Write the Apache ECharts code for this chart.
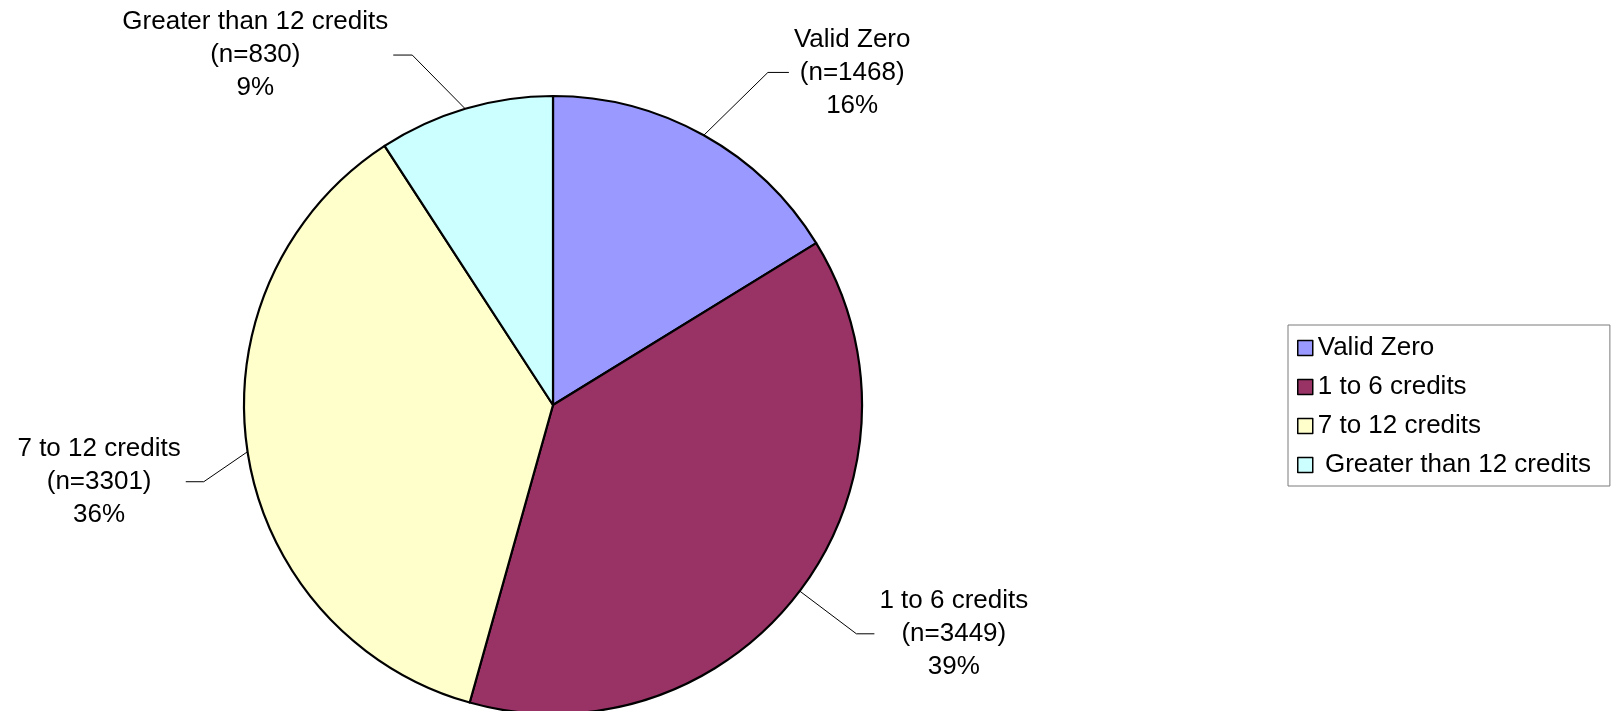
<!DOCTYPE html>
<html>
<head>
<meta charset="utf-8">
<script src="https://cdn.jsdelivr.net/npm/echarts@6/dist/echarts.min.js"></script>
<style>
  html, body { margin: 0; padding: 0; background: #fff; }
  #pie { width: 1617px; height: 711px; }
</style>
</head>
<body>
<div id="pie"></div>
<script>
var categories = ['Valid Zero', '1 to 6 credits', '7 to 12 credits', 'Greater than 12 credits'];
var counts = [1468, 3449, 3301, 830];
var pctLabels = ['16%', '39%', '36%', '9%'];
var legendNames = ['Valid Zero', '1 to 6 credits', '7 to 12 credits', ' Greater than 12 credits'];

var colors = ['#9999FF', '#993366', '#FFFFCC', '#CCFFFF'];

// leader line tuning: [length, length2] and elbow shift [dx, dy]
var leaderLen = [[72, 21], [71, 18], [20, 18], [56, 19]];
var leaderShift = [[29, 0], [0, 0], [-24, 27], [-37, 0]];

var chart = echarts.init(document.getElementById('pie'));

var data = categories.map(function (name, i) {
    return {
        name: legendNames[i],
        value: counts[i],
        itemStyle: { color: colors[i] },
        labelLine: { length: leaderLen[i][0], length2: leaderLen[i][1] }
    };
});

var option = {
    animation: false,
    textStyle: { fontFamily: 'Liberation Sans, Arial, sans-serif' },
    legend: {
        orient: 'vertical',
        left: 1288,
        top: 325,
        padding: [10, 19, 8, 9],
        itemGap: 13,
        itemWidth: 15,
        itemHeight: 15,
        icon: 'rect',
        borderColor: '#7a7a7a',
        borderWidth: 1,
        backgroundColor: '#fff',
        selectedMode: false,
        itemStyle: { borderColor: '#000', borderWidth: 1.5 },
        textStyle: { color: '#000', fontSize: 26, lineHeight: 25, fontFamily: 'Liberation Sans, Arial, sans-serif' },
        data: legendNames
    },
    series: [
        {
            type: 'pie',
            center: [553, 405],
            radius: 309,
            startAngle: 90,
            clockwise: true,
            avoidLabelOverlap: false,
            itemStyle: { borderColor: '#000', borderWidth: 2.2 },
            emphasis: { disabled: true },
            label: {
                show: true,
                position: 'outside',
                color: '#000',
                fontSize: 26,
                lineHeight: 33,
                fontFamily: 'Liberation Sans, Arial, sans-serif',
                formatter: function (p) {
                    return categories[p.dataIndex] + '\n(n=' + p.value + ')\n' + pctLabels[p.dataIndex];
                }
            },
            labelLine: {
                show: true,
                smooth: false,
                lineStyle: { color: '#000', width: 1 }
            },
            labelLayout: function (p) {
                var o = leaderShift[p.dataIndex];
                var pts = p.labelLinePoints;
                var r = p.labelRect;
                var res = {
                    x: r.x + r.width / 2 + o[0],
                    y: r.y + r.height / 2 + o[1],
                    align: 'center',
                    verticalAlign: 'middle'
                };
                if (pts && pts.length === 3) {
                    res.labelLinePoints = [
                        pts[0],
                        [pts[1][0] + o[0], pts[1][1] + o[1]],
                        [pts[2][0] + o[0], pts[2][1] + o[1]]
                    ];
                }
                return res;
            },
            data: data
        }
    ]
};
chart.setOption(option);
</script>
</body>
</html>
